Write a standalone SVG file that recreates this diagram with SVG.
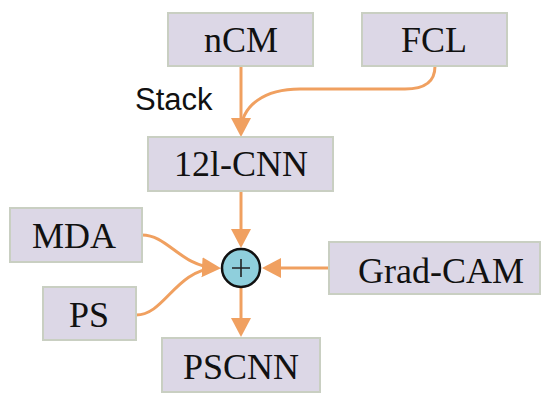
<svg xmlns="http://www.w3.org/2000/svg" width="551" height="412" viewBox="0 0 551 412">
<style>
.box{fill:#dcd7e6;stroke:#c9cfc2;stroke-width:2}
.lbl{font-family:"Liberation Serif","Times New Roman",serif;font-size:36px;fill:#111;text-anchor:middle}
.con{fill:none;stroke:#f0a060;stroke-width:3}
</style>
<defs>
<marker id="ah" markerUnits="userSpaceOnUse" markerWidth="20" markerHeight="21" refX="14" refY="10" orient="auto">
<path d="M0,0 L19,10 L0,20 z" fill="#f0a060"/>
</marker>
</defs>
<rect width="551" height="412" fill="#fff"/>
<g id="connectors">
<path class="con" d="M241,66 L241,132" marker-end="url(#ah)"/>
<path class="con" d="M435,66 C435,82 425,89 405,89 L300,89 C265,89 241,105 241,132"/>
<path class="con" d="M241,191 L241,243" marker-end="url(#ah)"/>
<path class="con" d="M241,288 L241,332" marker-end="url(#ah)"/>
<path class="con" d="M329,268 L267,268" marker-end="url(#ah)"/>
<path class="con" d="M142,235 C168,235 180,266 216,268" marker-end="url(#ah)"/>
<path class="con" d="M136,315 C165,315 175,270 216,268"/>
</g>
<g id="nCM"><rect class="box" x="168" y="13" width="145" height="53"/><text class="lbl" x="241" y="52">nCM</text></g>
<g id="FCL"><rect class="box" x="362" y="13" width="145" height="53"/><text class="lbl" x="434" y="52">FCL</text></g>
<g id="stack-label"><text x="135" y="110" font-family="'Liberation Sans',Arial,sans-serif" font-size="31" fill="#111">Stack</text></g>
<g id="CNN"><rect class="box" x="148" y="137" width="185" height="54"/><text class="lbl" x="241" y="176">12l-CNN</text></g>
<g id="MDA"><rect class="box" x="10" y="208" width="132" height="54"/><text class="lbl" x="74" y="248">MDA</text></g>
<g id="PS"><rect class="box" x="43" y="287" width="93" height="53"/><text class="lbl" x="89" y="327">PS</text></g>
<g id="GradCAM"><rect class="box" x="329" y="242" width="211" height="52"/><text class="lbl" x="441" y="283">Grad-CAM</text></g>
<g id="PSCNN"><rect class="box" x="162" y="338" width="158" height="54"/><text class="lbl" x="241" y="379">PSCNN</text></g>
<g id="sum">
<circle cx="241" cy="268" r="19" fill="#8fcfdc" stroke="#111" stroke-width="2.5"/>
<path d="M232,268 H250 M241,259 V277" stroke="#222" stroke-width="1.6" fill="none"/>
</g>
</svg>
